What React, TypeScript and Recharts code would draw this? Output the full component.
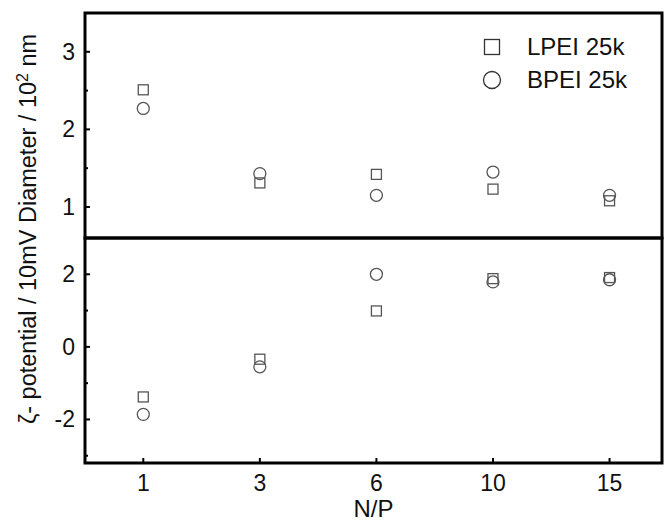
import React from 'react';
import { ScatterChart, Scatter, XAxis, YAxis, ReferenceArea, Legend } from 'recharts';

const npLabels = ['1', '3', '6', '10', '15'];
const lpeiDiameter = [2.51, 1.31, 1.42, 1.23, 1.08];
const bpeiDiameter = [2.27, 1.43, 1.15, 1.45, 1.15];
const lpeiZeta = [-1.38, -0.34, 0.99, 1.88, 1.91];
const bpeiZeta = [-1.86, -0.55, 2.0, 1.79, 1.85];

const xDomain: [number, number] = [0.5, 5.45];
const xTicks = [1, 2, 3, 4, 5];
const topDomain: [number, number] = [0.6, 3.5];
const topTicks = [1, 1.5, 2, 2.5, 3];
const bottomDomain: [number, number] = [-3.2, 3];
const bottomTicks = [-3, -2, -1, 0, 1, 2];

const toPoints = (vals: number[]) => vals.map((v, i) => ({ x: i + 1, y: v }));

const FONT = '"Liberation Sans", Arial, Helvetica, sans-serif';
const MARK = '#555';

const SquareMark = (props: any) => {
  const { cx, cy } = props;
  return <rect x={cx - 5} y={cy - 5} width={10} height={10} fill="none" stroke={MARK} strokeWidth={1.3} />;
};

const CircleMark = (props: any) => {
  const { cx, cy } = props;
  return <circle cx={cx} cy={cy} r={6} fill="none" stroke={MARK} strokeWidth={1.3} />;
};

// major ticks get a label, minor ones only a short inward mark
const YTick = (props: any) => {
  const { x, y, payload, step } = props;
  const major = Math.abs(payload.value % step) < 1e-9;
  return (
    <g>
      <line x1={x} x2={x + (major ? 5 : 3)} y1={y} y2={y} stroke="#000" strokeWidth={2} />
      {major && (
        <text x={x - 10} y={y + 8} textAnchor="end" fontSize={23} fontFamily={FONT} fill="#111">
          {payload.value}
        </text>
      )}
    </g>
  );
};

const XTick = (props: any) => {
  const { x, y, payload } = props;
  return (
    <g>
      <line x1={x} x2={x} y1={y} y2={y - 5} stroke="#000" strokeWidth={2} />
      <text x={x} y={y + 28} textAnchor="middle" fontSize={23} fontFamily={FONT} fill="#111">
        {npLabels[payload.value - 1]}
      </text>
    </g>
  );
};

const LegendBox = () => (
  <div style={{ fontFamily: FONT, fontSize: 24, color: '#111' }}>
    {[
      { name: 'LPEI 25k', sym: <rect x={4.5} y={4.5} width={15} height={15} fill="none" stroke="#333" strokeWidth={1.3} /> },
      { name: 'BPEI 25k', sym: <circle cx={12} cy={12} r={8.5} fill="none" stroke="#333" strokeWidth={1.3} /> },
    ].map((r) => (
      <div key={r.name} style={{ display: 'flex', alignItems: 'center', height: 33 }}>
        <svg width={24} height={24}>{r.sym}</svg>
        <span style={{ marginLeft: 23 }}>{r.name}</span>
      </div>
    ))}
  </div>
);

export default function App() {
  return (
    <div style={{ position: 'absolute', left: 0, top: 0, width: 664, height: 524, background: '#fff' }}>
      <div style={{ position: 'absolute', left: 0, top: 0 }}>
        <ScatterChart width={664} height={240} margin={{ top: 13, right: 2, bottom: 2, left: 0 }}>
          <XAxis type="number" dataKey="x" domain={xDomain} ticks={xTicks} height={0} hide allowDataOverflow />
          <YAxis
            type="number"
            dataKey="y"
            width={85}
            domain={topDomain}
            ticks={topTicks}
            interval={0}
            tickSize={0}
            tickMargin={0}
            axisLine={false}
            tickLine={false}
            tick={<YTick step={1} />}
            allowDataOverflow
          />
          <ReferenceArea x1={xDomain[0]} x2={xDomain[1]} y1={topDomain[0]} y2={topDomain[1]} fill="none" stroke="#000" strokeWidth={3} />
          <Legend
            layout="horizontal"
            verticalAlign="middle"
            align="center"
            content={<LegendBox />}
            wrapperStyle={{ top: 30, left: 480, width: 180 }}
          />
          <Scatter name="LPEI 25k" data={toPoints(lpeiDiameter)} shape={<SquareMark />} isAnimationActive={false} />
          <Scatter name="BPEI 25k" data={toPoints(bpeiDiameter)} shape={<CircleMark />} isAnimationActive={false} />
        </ScatterChart>
      </div>
      <div style={{ position: 'absolute', left: 0, top: 236 }}>
        <ScatterChart width={664} height={288} margin={{ top: 2, right: 2, bottom: 0, left: 0 }}>
          <XAxis
            type="number"
            dataKey="x"
            domain={xDomain}
            ticks={xTicks}
            interval={0}
            height={61}
            tickSize={0}
            tickMargin={0}
            axisLine={false}
            tickLine={false}
            tick={<XTick />}
            allowDataOverflow
            label={{ value: 'N/P', position: 'insideBottom', offset: 7, fontSize: 24, fontFamily: FONT, fill: '#111' }}
          />
          <YAxis
            type="number"
            dataKey="y"
            width={85}
            domain={bottomDomain}
            ticks={bottomTicks}
            interval={0}
            tickSize={0}
            tickMargin={0}
            axisLine={false}
            tickLine={false}
            tick={<YTick step={2} />}
            allowDataOverflow
          />
          <ReferenceArea x1={xDomain[0]} x2={xDomain[1]} y1={bottomDomain[0]} y2={bottomDomain[1]} fill="none" stroke="#000" strokeWidth={3} />
          <Scatter name="LPEI 25k" data={toPoints(lpeiZeta)} shape={<SquareMark />} isAnimationActive={false} />
          <Scatter name="BPEI 25k" data={toPoints(bpeiZeta)} shape={<CircleMark />} isAnimationActive={false} />
        </ScatterChart>
      </div>
      <svg width={60} height={524} style={{ position: 'absolute', left: 0, top: 0 }}>
        <text
          transform="translate(36, 229) rotate(-90)"
          textAnchor="middle"
          fontSize={23.5}
          fontFamily={FONT}
          fill="#111"
        >
          ζ- potential / 10mV Diameter / 10
          <tspan dy={-8} fontSize={16}>2</tspan>
          <tspan dy={8}> nm</tspan>
        </text>
      </svg>
    </div>
  );
}
